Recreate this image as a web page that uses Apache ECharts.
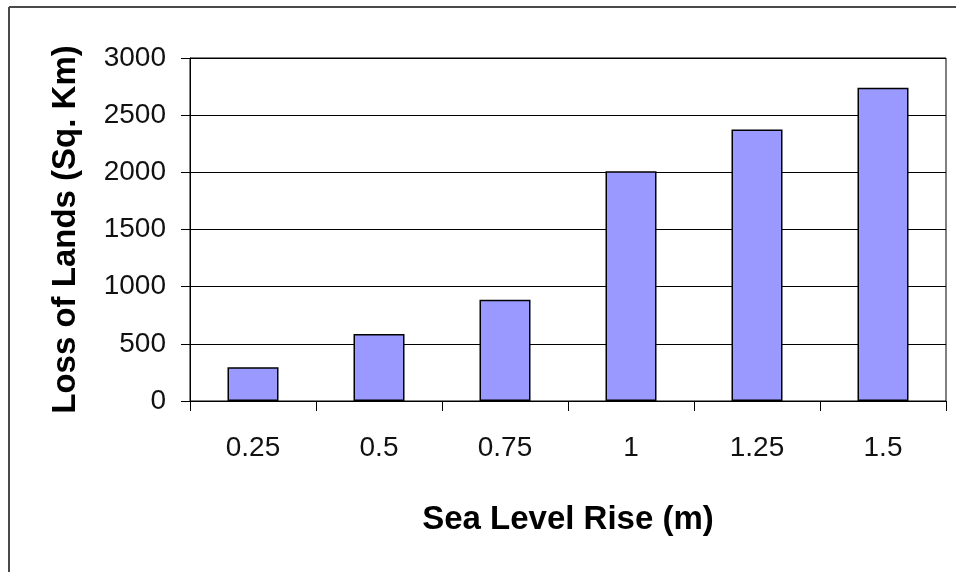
<!DOCTYPE html>
<html>
<head>
<meta charset="utf-8">
<script src="https://cdn.jsdelivr.net/npm/echarts@6/dist/echarts.min.js"></script>
<style>
  html, body { margin: 0; padding: 0; background: #fff; }
  #chart { width: 956px; height: 572px; }
</style>
</head>
<body>
<div id="chart"></div>
<script>
// Sea level rise scenarios (m) and the corresponding land loss (sq. km)
const categories = ['0.25', '0.5', '0.75', '1', '1.25', '1.5'];
const landLoss = [295, 585, 885, 2010, 2375, 2740];
const yTicks = { min: 0, max: 3000, interval: 500 };

const chart = echarts.init(document.getElementById('chart'), null, { renderer: 'canvas' });

const tickFont = { fontFamily: 'Liberation Sans', fontSize: 28, color: '#111' };
const titleFont = { fontFamily: 'Liberation Sans', fontWeight: 'bold', fontSize: 33, color: '#000' };

chart.setOption({
  animation: false,
  backgroundColor: '#fff',
  graphic: [
    // outer frame (top and left edges)
    { type: 'line', shape: { x1: 9, y1: 7, x2: 960, y2: 7 }, style: { stroke: '#4a4a4a', lineWidth: 2 } },
    { type: 'line', shape: { x1: 9, y1: 7, x2: 9, y2: 580 }, style: { stroke: '#4a4a4a', lineWidth: 2 } }
  ],
  grid: {
    left: 190, right: 10, top: 58, bottom: 171,
    show: true, borderColor: '#000', borderWidth: 1, backgroundColor: '#fff'
  },
  xAxis: {
    type: 'category',
    data: categories,
    name: 'Sea Level Rise (m)',
    nameLocation: 'middle',
    nameGap: 102,
    nameTextStyle: titleFont,
    axisLine: { lineStyle: { color: '#000', width: 1 } },
    axisTick: { show: true, length: 10, alignWithLabel: false, lineStyle: { color: '#000' } },
    axisLabel: Object.assign({ margin: 33 }, tickFont),
    splitLine: { show: false }
  },
  yAxis: {
    type: 'value',
    min: yTicks.min, max: yTicks.max, interval: yTicks.interval,
    name: 'Loss of Lands (Sq. Km)',
    nameLocation: 'middle',
    nameGap: 108,
    nameRotate: 90,
    nameTextStyle: titleFont,
    axisLine: { show: true, lineStyle: { color: '#000', width: 1 } },
    axisTick: { show: true, length: 9, lineStyle: { color: '#000' } },
    axisLabel: Object.assign({ margin: 24, formatter: v => String(v) }, tickFont),
    splitLine: { show: true, lineStyle: { color: '#000', width: 1 } }
  },
  series: [{
    type: 'bar',
    data: landLoss,
    barWidth: 51,
    itemStyle: { color: '#9999ff', borderColor: '#000', borderWidth: 1.5 }
  }]
});
</script>
</body>
</html>
